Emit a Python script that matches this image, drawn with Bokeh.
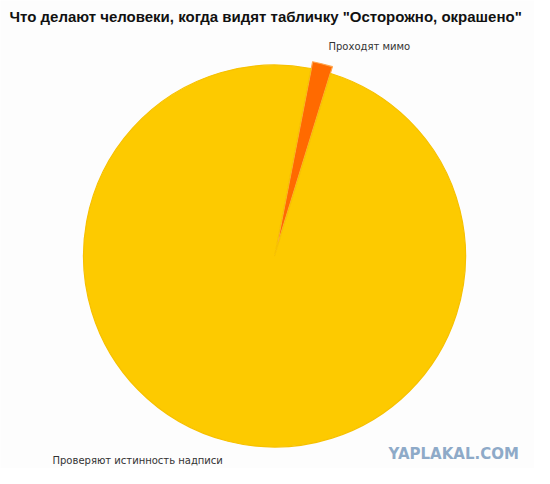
import math
from bokeh.plotting import figure
from bokeh.models import Range1d
from bokeh.core.properties import value
from bokeh.embed import file_html
from bokeh.resources import INLINE

# ---- data ----
title_text = 'Что делают человеки, когда видят табличку "Осторожно, окрашено"'
categories = ["Проходят мимо", "Проверяют истинность надписи"]
shares = [1.7, 98.3]
colors = ["#ff6a00", "#fdca00"]
edge_colors = ["#ffa64d", "#f7c100"]
watermark = "YAPLAKAL.COM"

# ---- layout (image pixel coordinates, y measured from top) ----
W, H = 534, 468
IMG_H = 484

def fy(y_img):
    return IMG_H - y_img

p = figure(width=W, height=H, output_backend="svg", toolbar_location=None,
           x_range=Range1d(0, W), y_range=Range1d(IMG_H - H, IMG_H),
           min_border=0)
p.axis.visible = False
p.grid.visible = False
p.outline_line_color = None
p.background_fill_color = "#fdfdfd"
p.border_fill_color = "#fdfdfd"

cx, cy = 274, 255.5
R = 191
start_cw_from_top = 11.0   # degrees, clockwise from 12 o'clock
explode = [7.0, 0.0]

total = sum(shares)
acc = 0.0
for i, s in enumerate(shares):
    a0 = start_cw_from_top + 360.0 * acc / total
    a1 = start_cw_from_top + 360.0 * (acc + s) / total
    acc += s
    sa = math.radians(90 - a0)
    ea = math.radians(90 - a1)
    mid = math.radians(90 - (a0 + a1) / 2)
    ox = cx + explode[i] * math.cos(mid)
    oy = fy(cy) + explode[i] * math.sin(mid)
    p.wedge(x=[ox], y=[oy], radius=R,
            start_angle=[sa], end_angle=[ea], direction="clock",
            fill_color=colors[i], line_color=edge_colors[i], line_width=1.2)

# title
p.text(x=[9], y=[fy(16)], text=[title_text], text_font=value("Liberation Sans"),
       text_font_style="bold", text_font_size="15px", text_color="#111111",
       text_align="left", text_baseline="middle")

# labels
p.text(x=[328], y=[fy(46)], text=[categories[0]], text_font=value("DejaVu Sans"),
       text_font_size="10px", text_color="#333333", text_align="left", text_baseline="middle")
p.text(x=[52], y=[fy(460)], text=[categories[1]], text_font=value("DejaVu Sans"),
       text_font_size="10px", text_color="#333333", text_align="left", text_baseline="middle")

# watermark
p.text(x=[388], y=[fy(453)], text=[watermark], text_font=value("DejaVu Sans"),
       text_font_style="bold", text_font_size="15px", text_color="#8eaac8",
       text_align="left", text_baseline="middle")

open("out.html", "w").write(file_html(p, INLINE))
